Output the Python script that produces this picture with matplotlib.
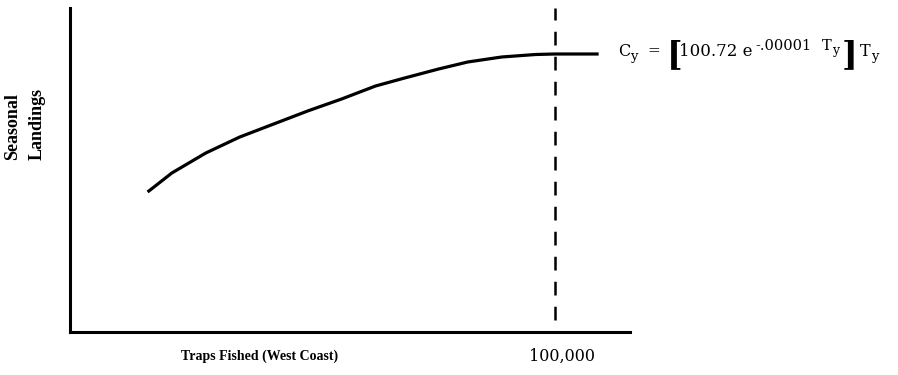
import matplotlib
matplotlib.use('Agg')
import matplotlib.pyplot as plt

# traps fished (west coast) vs relative seasonal landings
traps = [16000, 21000, 28000, 35000, 42000, 49000, 56000, 63000, 69000, 76000,
         82000, 89000, 96000, 100000, 109000]
landings = [140, 159, 179, 195, 208, 221, 233, 246, 254, 263, 270, 275, 277.5, 278, 278]
t_peak = 100000

plt.rcParams['font.family'] = ['DejaVu Serif']

W, H = 898, 375
fig = plt.figure(figsize=(W / 100, H / 100), dpi=100)
# axes box in pixels: left 70, right 630, top 8, bottom 332
ax = fig.add_axes([70 / W, 1 - 332 / H, 560 / W, 324 / H])
ax.set_xlim(0, 560 / 485 * 100000)
ax.set_ylim(0, 324)

ax.plot(traps, landings, color='black', lw=2.3, solid_capstyle='butt', solid_joinstyle='round')
ax.axvline(t_peak, ymin=12 / 324, ymax=1, color='black', lw=1.8, dashes=(5.5, 4.5))

for s in ['top', 'right']:
    ax.spines[s].set_visible(False)
ax.spines['left'].set_linewidth(2.2)
ax.spines['bottom'].set_linewidth(2.2)
ax.set_xticks([])
ax.set_yticks([])

bold = dict(family='Liberation Serif', fontweight='bold')
fig.text(260 / W, 1 - 356 / H, 'Traps Fished (West Coast)', ha='center', va='center',
         fontsize=10, **bold)
fig.text(562 / W, 1 - 356 / H, '100,000', ha='center', va='center', fontsize=11.5)
fig.text(13 / W, 1 - 127 / H, 'Seasonal', ha='center', va='center',
         rotation=90, fontsize=13, **bold)
fig.text(37 / W, 1 - 124 / H, 'Landings', ha='center', va='center',
         rotation=90, fontsize=13, **bold)

# equation, laid out piece by piece (text, size, drop in px, gap after in px)
pieces = [('C', 11.5, 0, 0), ('y', 9.5, 5, 10), ('=', 11, 0, 6),
          ('[', 24, 2, -3), ('100.72 e', 12, 0, 3), ('-.00001', 10.5, -6, 10),
          ('T', 10.5, -6, 0), ('y', 9, -1, 3), (']', 24, 2, 2), ('T', 11.5, 0, 1),
          ('y', 9.5, 5, 0)]
renderer = fig.canvas.get_renderer()
x = 618
for txt, size, dy, gap in pieces:
    w = 'bold' if txt in '[]' else 'normal'
    t = fig.text(x / W, 1 - (50 + dy) / H, txt, ha='left', va='center_baseline',
                 fontsize=size, fontweight=w)
    x += t.get_window_extent(renderer).width + gap

fig.savefig('out.png', dpi=100)
